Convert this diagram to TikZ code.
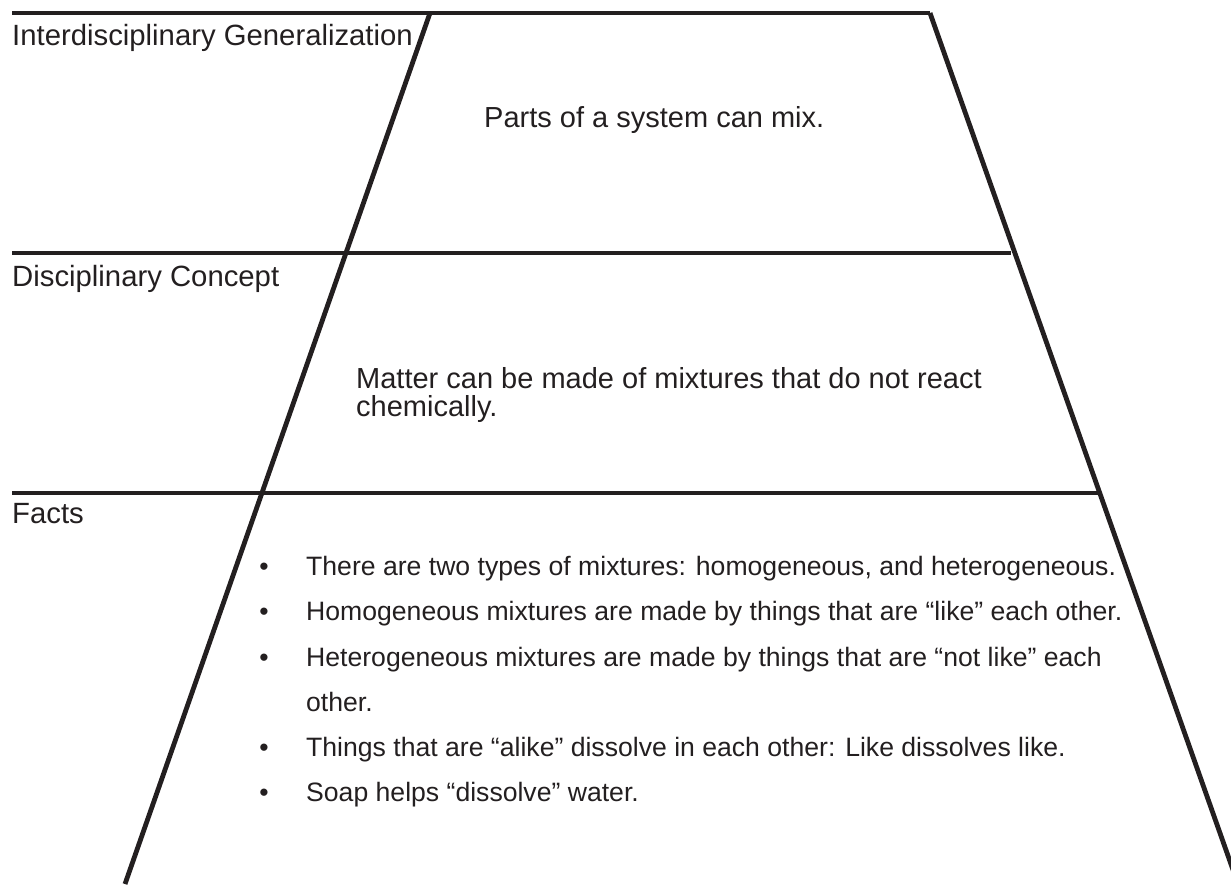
\documentclass[tikz,border=0pt]{standalone}
\usepackage{fontspec}
\setmainfont{Liberation Sans}
\definecolor{ink}{HTML}{231F20}
\tikzset{
  rule/.style={line width=4.8pt, draw=ink},
  tiername/.style={anchor=base west, inner sep=0pt, text=ink, font=\fontsize{29.3}{29.3}\selectfont},
  tiertext/.style={anchor=base west, inner sep=0pt, text=ink, font=\fontsize{29}{29}\selectfont},
  fact/.style={anchor=base west, inner sep=0pt, text=ink, font=\fontsize{26.6}{26.6}\selectfont},
  factdot/.style={anchor=base, inner sep=0pt, text=ink, font=\fontsize{26.6}{26.6}\selectfont},
}
\begin{document}
\begin{tikzpicture}[x=1pt,y=-1pt]
 \useasboundingbox (0,0) rectangle (1231,884);
 % corners of the pyramid and ends of the rules
 \coordinate (topl) at (430,13);
 \coordinate (topr) at (930,13);
 \coordinate (botl) at (125,884);
 \coordinate (botr) at (1238,884);
 \coordinate (r0) at (12,13);
 \coordinate (r1) at (12,253);
 \coordinate (r1e) at (1011,253);
 \coordinate (r2) at (12,493);
 \coordinate (r2e) at (1100,493);

 \draw[rule] (r0) -- (topr);
 \draw[rule] (r1) -- (r1e);
 \draw[rule] (r2) -- (r2e);
 \draw[rule] (topl) -- (botl);
 \draw[rule] (topr) -- (botr);

 \node[tiername] at (12,45)  (gen)   {Interdisciplinary Generalization};
 \node[tiername] at (12,286) (conc)  {Disciplinary Concept};
 \node[tiername] at (12,523) (facts) {Facts};

 \node[tiertext] at (484,127) (gentext)   {Parts of a system can mix.};
 \node[tiertext] at (356,388) (conctext)  {Matter can be made of mixtures that do not react};
 \node[tiertext] at (356,416) (conctext2) {chemically.};

 \node[factdot] at (264,575) (d1) {•};
 \node[factdot] at (264,620) (d2) {•};
 \node[factdot] at (264,666) (d3) {•};
 \node[factdot] at (264,756) (d4) {•};
 \node[factdot] at (264,801) (d5) {•};
 \node[fact] at (306,575) (f1)  {There are two types of mixtures: homogeneous, and heterogeneous.};
 \node[fact] at (306,620) (f2)  {Homogeneous mixtures are made by things that are “like” each other.};
 \node[fact] at (306,666) (f3)  {Heterogeneous mixtures are made by things that are “not like” each};
 \node[fact] at (306,711) (f3b) {other.};
 \node[fact] at (306,756) (f4)  {Things that are “alike” dissolve in each other: Like dissolves like.};
 \node[fact] at (306,801) (f5)  {Soap helps “dissolve” water.};
\end{tikzpicture}
\end{document}
